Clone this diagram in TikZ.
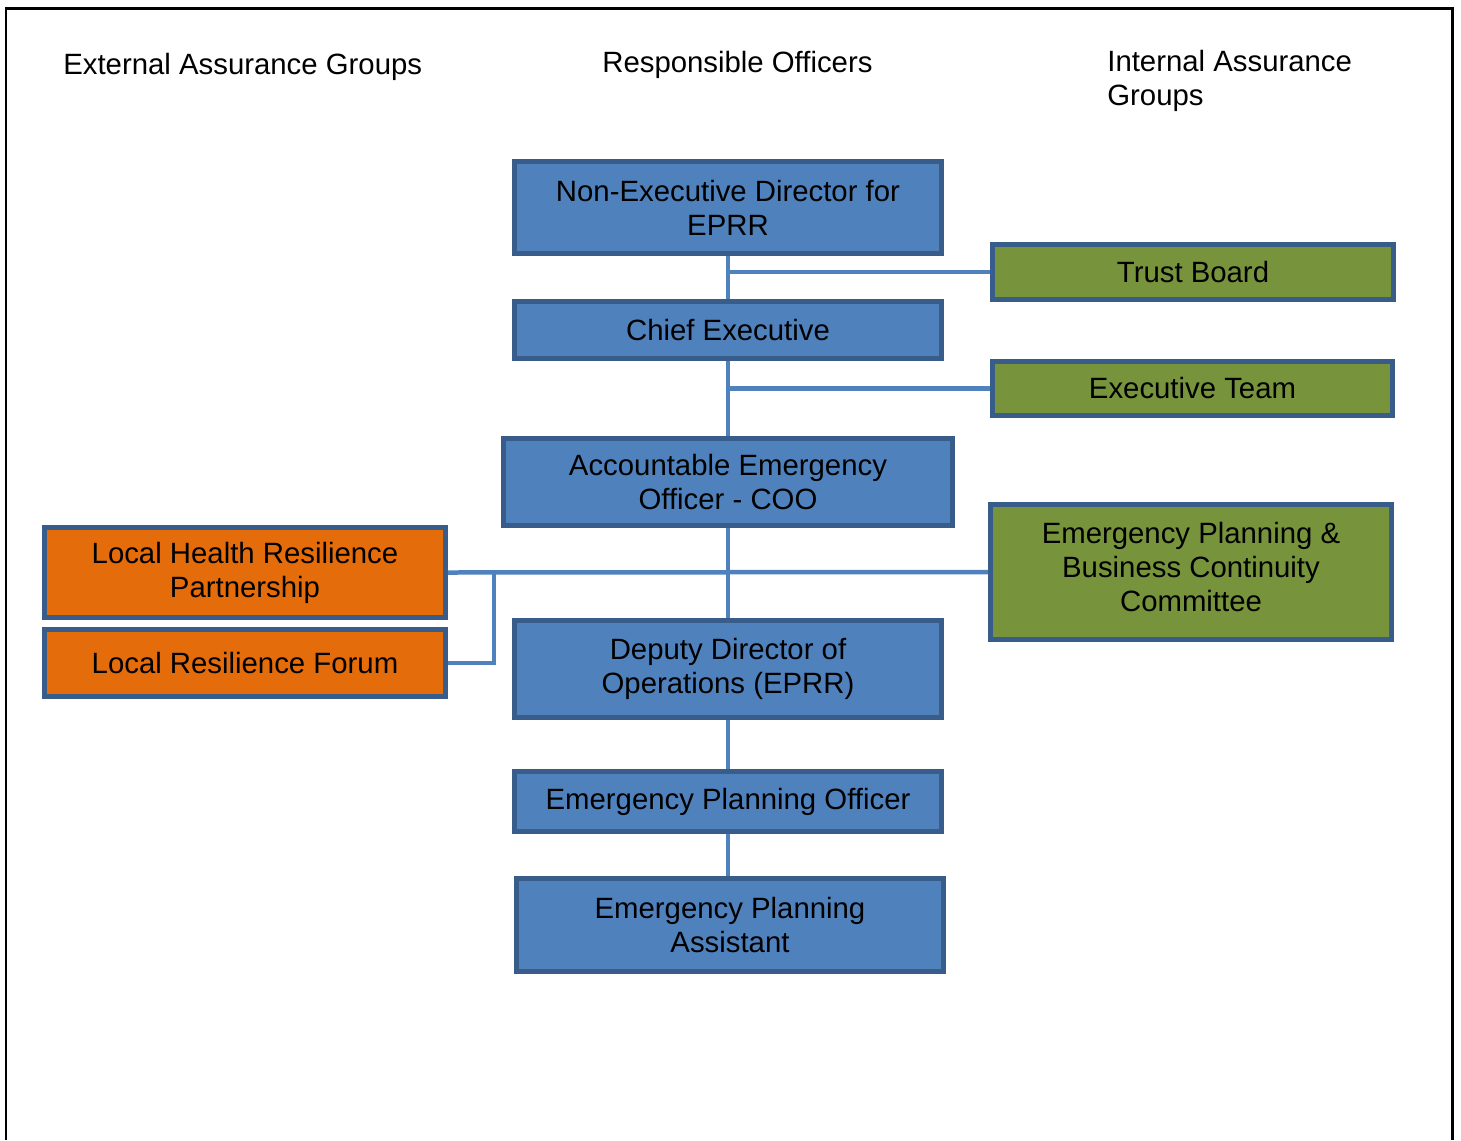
\documentclass[tikz,border=0pt]{standalone}
\usepackage{fontspec}
\setmainfont{Liberation Sans}
\usetikzlibrary{positioning}
\definecolor{officer}{HTML}{4F81BD}
\definecolor{edge}{HTML}{385D8A}
\definecolor{internal}{HTML}{77933C}
\definecolor{external}{HTML}{E46C0A}
\tikzset{
	box/.style={draw=edge,line width=0.1cm,inner sep=0pt,align=center,
		font=\fontsize{16.7}{19.4}\selectfont},
	link/.style={draw=officer,line width=0.09cm},
	heading/.style={anchor=west,inner sep=0pt,align=left,
		font=\fontsize{16.7}{19.4}\selectfont}
}
\begin{document}
\begin{tikzpicture}[x=0.02cm,y=-0.02cm]
		\useasboundingbox (0,0) rectangle (1461,1140);
		\draw[line width=0.06cm] (6,1140) -- (6,8) -- (1452,8) -- (1452,1140);

		\node[heading] (hext) at (63,67) {External Assurance Groups};
		\node[heading] (hres) at (602,65) {Responsible Officers};
		\node[heading] (hint) at (1107,81) {Internal Assurance\\Groups};

		% responsible officers
		\node[box,fill=officer,minimum width=8.54cm,minimum height=1.84cm] (ned) at (728,207.5) {Non-Executive Director for\\EPRR};
		\node[box,fill=officer,minimum width=8.54cm,minimum height=1.14cm] (ce) at (728,330) {Chief Executive};
		\node[box,fill=officer,minimum width=8.98cm,minimum height=1.74cm] (aeo) at (728,482) {Accountable Emergency\\Officer - COO};
		\node[box,fill=officer,minimum width=8.54cm,minimum height=1.94cm] (ddo) at (728,669) {Deputy Director of\\Operations (EPRR)};
		\node[box,fill=officer,minimum width=8.54cm,minimum height=1.2cm] (epo) at (728,801.5) {Emergency Planning Officer};
		\node[box,fill=officer,minimum width=8.54cm,minimum height=1.86cm] (epa) at (730,925) {Emergency Planning\\Assistant};

		% internal assurance
		\node[box,fill=internal,minimum width=8.02cm,minimum height=1.1cm] (tb) at (1193,272) {Trust Board};
		\node[box,fill=internal,minimum width=8.0cm,minimum height=1.08cm] (et) at (1192.5,388.5) {Executive Team};
		\node[box,fill=internal,minimum width=8.02cm,minimum height=2.7cm] (epbcc) at (1191,572) {Emergency Planning \&\\Business Continuity\\Committee\vspace{0.2cm}};

		% external assurance
		\node[box,fill=external,minimum width=8.02cm,minimum height=1.8cm] (lhrp) at (245,572.5) {Local Health Resilience\\Partnership};
		\node[box,fill=external,minimum width=8.02cm,minimum height=1.34cm] (lrf) [below=0.14cm of lhrp] {Local Resilience Forum};

		\coordinate (lrfj) at (494,572.5);

		\draw[link] (ned) -- (ce);
		\draw[link] (ned.south |- tb.west) -- (tb.west);
		\draw[link] (ce) -- (aeo);
		\draw[link] (ce.south |- et.west) -- (et.west);
		\draw[link] (aeo) -- (ddo);
		\draw[link] (lhrp.east) -- (epbcc.west);
		\draw[link] (lrf.east) -| (lrfj);
		\draw[link] (ddo) -- (epo);
		\draw[link] (epo.south) -- (epo.south |- epa.north);

		\end{tikzpicture}
\end{document}
